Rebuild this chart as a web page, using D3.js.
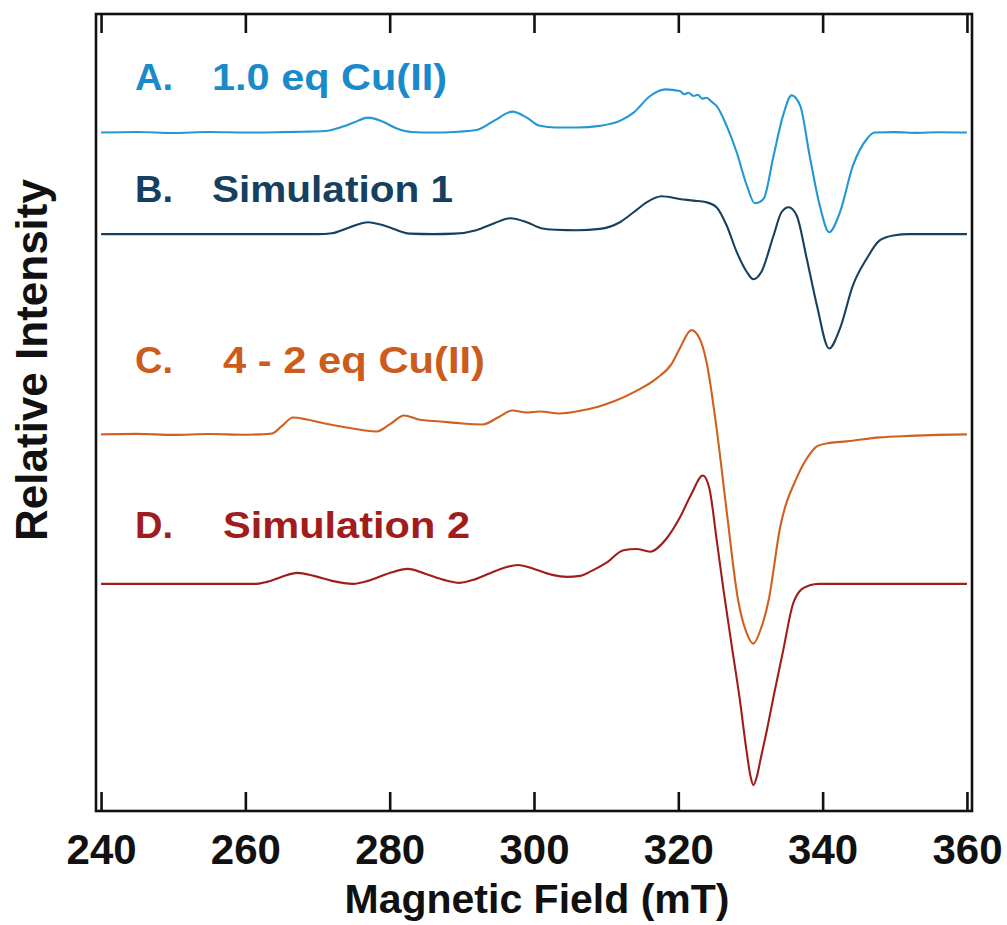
<!DOCTYPE html>
<html>
<head>
<meta charset="utf-8">
<script src="https://cdn.jsdelivr.net/npm/d3@7/dist/d3.min.js"></script>
<style>
  html, body { margin: 0; padding: 0; background: #ffffff; }
  svg { display: block; }
  text { font-family: Arial, "Liberation Sans", Helvetica, sans-serif; font-weight: bold; }
</style>
</head>
<body>
<svg id="chart" width="1007" height="925"></svg>
<script>
// ---------- data ----------
const xTicks = [240, 260, 280, 300, 320, 340, 360];
const xTickLabels = ["240", "260", "280", "300", "320", "340", "360"];
const seriesNames = ["A.", "B.", "C.", "D."];
const seriesTitles = ["1.0 eq Cu(II)", "Simulation 1", "4 - 2 eq Cu(II)", "Simulation 2"];
const seriesOffsets = [681, 579, 378, 228]; // vertical stacking offsets (relative intensity units)

// A. 1.0 eq Cu(II) (experimental)
const fieldA = [240, 245, 250, 255, 260, 265, 268, 271, 273.5, 275, 277, 279, 281, 283, 286, 289, 292, 294.5, 297, 299, 300.7, 303, 306, 309.1, 311.9, 313.8, 316.1, 318.2, 320.2, 320.8, 321.4, 322.1, 322.7, 323.3, 323.9, 324.6, 325.3, 326.7, 328.1, 329.5, 330.6, 331.8, 333.2, 334.5, 335.7, 336.9, 338.2, 339.6, 340.9, 342.4, 344.2, 346.1, 347.2, 350, 353, 356, 360];
const intA   = [0, 0.6, -0.4, 0.5, 0, 0.4, 0.8, 1.5, 6, 10, 15, 11, 4, 0.5, 0, 0.6, 2.5, 12, 21, 15, 7, 5, 5, 6.7, 11.7, 20, 36.7, 43.3, 41.7, 38.5, 40, 36.7, 38, 34, 35, 31, 26.7, 6.7, -20, -53.3, -71, -66.7, -23.3, 16.7, 37.3, 26.7, -23.3, -73.3, -100, -80, -33.3, -6.7, 0, 0.4, -0.3, 0.3, 0];

// B. Simulation 1
const fieldB = [240, 270, 272, 274.5, 277, 279.5, 282.8, 286, 289, 292, 294.5, 296.7, 299, 301, 303, 306, 309.1, 311.9, 313.8, 315.6, 317.7, 320.2, 322.1, 323.9, 325.3, 326.7, 328.1, 329.5, 330.4, 331.5, 333.2, 334.3, 335.3, 336.4, 337.8, 339.2, 340.9, 342.4, 344.2, 346.1, 347.9, 349.8, 352, 360];
const intB   = [0, 0, 1, 7, 12, 8, 0.5, 0, 0.5, 4, 11, 16, 12, 6, 4.5, 4, 5.3, 12, 22, 32, 38, 35.3, 33.7, 32, 27, 8.7, -18, -38, -45.3, -38, -1.3, 22, 27, 18.7, -24.7, -71.3, -114.7, -94.7, -51.3, -24.7, -6.3, -1.3, 0, 0];

// C. 4 - 2 eq Cu(II) (experimental)
const fieldC = [240, 245, 250, 255, 260, 262, 263.7, 265, 266.6, 268.5, 271, 274, 276.5, 278.2, 280, 282, 284, 287, 290, 292.9, 295, 297, 299, 300.8, 303.6, 306.4, 309, 311, 314, 317, 319, 320.2, 321.8, 322.9, 323.9, 325.3, 326.7, 328.3, 329.4, 330.4, 331.4, 332.5, 334.1, 336.4, 338, 339.2, 341, 343.3, 347.9, 352, 356, 360];
const intC   = [0, 0.5, -0.5, 0.4, -0.3, 0, 1, 8, 17, 15, 11, 7, 4, 3, 10, 19, 15, 13, 11, 10, 17, 24, 22, 23, 21, 23.7, 28, 33, 43, 56.3, 70, 86.3, 104.7, 97, 73, 6.3, -77, -167, -198, -210, -196, -167, -93.7, -43.7, -22, -12, -8.5, -7, -3, -1.5, -0.5, 0];

// D. Simulation 2
const fieldD = [240, 261.6, 263, 265, 267.2, 269.5, 272, 274.9, 277, 280, 282.5, 285, 287.5, 289.7, 292, 295, 297.8, 300, 302.5, 304.6, 306.4, 308, 310, 312.4, 314.2, 316.1, 318.2, 320.2, 321.8, 323.4, 324.3, 325.3, 326.3, 327.4, 328.5, 329.5, 330.0, 330.4, 330.9, 331.4, 332.3, 333.2, 334.5, 335.9, 337, 338.2, 339.5, 360];
const intD   = [0, 0, 2, 7, 11, 8, 3, 0, 3, 11, 15, 10, 4, 1, 5, 14, 19, 15, 9, 7, 8, 13, 21, 33.7, 35, 32.3, 44, 66.3, 90, 108.7, 96, 45, -8, -62, -115, -170, -193, -202, -193, -176, -146, -113, -68, -20, -6, -1.5, 0, 0];

const seriesFields = [fieldA, fieldB, fieldC, fieldD];
const seriesInts = [intA, intB, intC, intD];

// ---------- styling / layout ----------
const lineColors = ["#2497d2", "#17405f", "#d0601f", "#a11d1d"];
const textColors = ["#1a8acb", "#15405f", "#cc5b1c", "#a11c1c"];
const labelPos = [
  {nx: 135, tx: 212, y: 90, nw: 38, tw: 235},
  {nx: 135, tx: 212, y: 202, nw: 38, tw: 241},
  {nx: 135, tx: 223, y: 373, nw: 38, tw: 262},
  {nx: 135, tx: 223, y: 538, nw: 38, tw: 247}
];

const svg = d3.select("#chart");
const frame = {left: 96, right: 972, top: 14, bottom: 811};

const x = d3.scaleLinear().domain([239.3, 360.7]).range([frame.left, frame.right]);
const y = d3.scaleLinear().domain([0, 800]).range([frame.bottom, frame.top]);

// curves
seriesFields.forEach((fields, i) => {
  const pts = fields.map((f, j) => [f, seriesInts[i][j] + seriesOffsets[i]]);
  const line = d3.line()
    .x(d => x(d[0]))
    .y(d => y(d[1]))
    .curve(d3.curveMonotoneX);
  svg.append("path")
    .datum(pts)
    .attr("d", line)
    .attr("fill", "none")
    .attr("stroke", lineColors[i])
    .attr("stroke-width", 2.1)
    .attr("stroke-linejoin", "round");
});

// frame
svg.append("rect")
  .attr("x", frame.left).attr("y", frame.top)
  .attr("width", frame.right - frame.left)
  .attr("height", frame.bottom - frame.top)
  .attr("fill", "none").attr("stroke", "#111").attr("stroke-width", 2.6);

// bottom axis (ticks inside) and top ticks
const bottomAxis = d3.axisBottom(x).tickValues(xTicks).tickSize(-19).tickPadding(34)
  .tickFormat((d, i) => xTickLabels[i]);
const gb = svg.append("g").attr("transform", `translate(0,${frame.bottom})`).call(bottomAxis);
gb.select(".domain").remove();
gb.selectAll(".tick line").attr("stroke", "#111").attr("stroke-width", 2.6);
gb.selectAll(".tick text")
  .attr("fill", "#111")
  .style("font-size", "42px")
  .style("font-family", "Arial, 'Liberation Sans', sans-serif")
  .style("font-weight", "bold")
  .attr("dy", "0");
gb.selectAll(".tick text").attr("y", 53);

const topAxis = d3.axisTop(x).tickValues(xTicks).tickSize(-19).tickFormat("");
const gt = svg.append("g").attr("transform", `translate(0,${frame.top})`).call(topAxis);
gt.select(".domain").remove();
gt.selectAll(".tick line").attr("stroke", "#111").attr("stroke-width", 2.6);

// axis titles
svg.append("text")
  .attr("x", 537).attr("y", 913)
  .attr("text-anchor", "middle")
  .attr("fill", "#111")
  .style("font-size", "41px")
  .text("Magnetic Field (mT)");

svg.append("text")
  .attr("transform", "translate(47,360) rotate(-90)")
  .attr("text-anchor", "middle")
  .attr("fill", "#111")
  .style("font-size", "44px")
  .text("Relative Intensity");

// series labels
seriesNames.forEach((n, i) => {
  const p = labelPos[i];
  svg.append("text")
    .attr("x", p.nx).attr("y", p.y)
    .attr("fill", textColors[i])
    .style("font-size", "37px")
    .attr("textLength", p.nw).attr("lengthAdjust", "spacingAndGlyphs")
    .text(n);
  svg.append("text")
    .attr("x", p.tx).attr("y", p.y)
    .attr("fill", textColors[i])
    .style("font-size", "37px")
    .attr("textLength", p.tw).attr("lengthAdjust", "spacingAndGlyphs")
    .text(seriesTitles[i]);
});
</script>
</body>
</html>
